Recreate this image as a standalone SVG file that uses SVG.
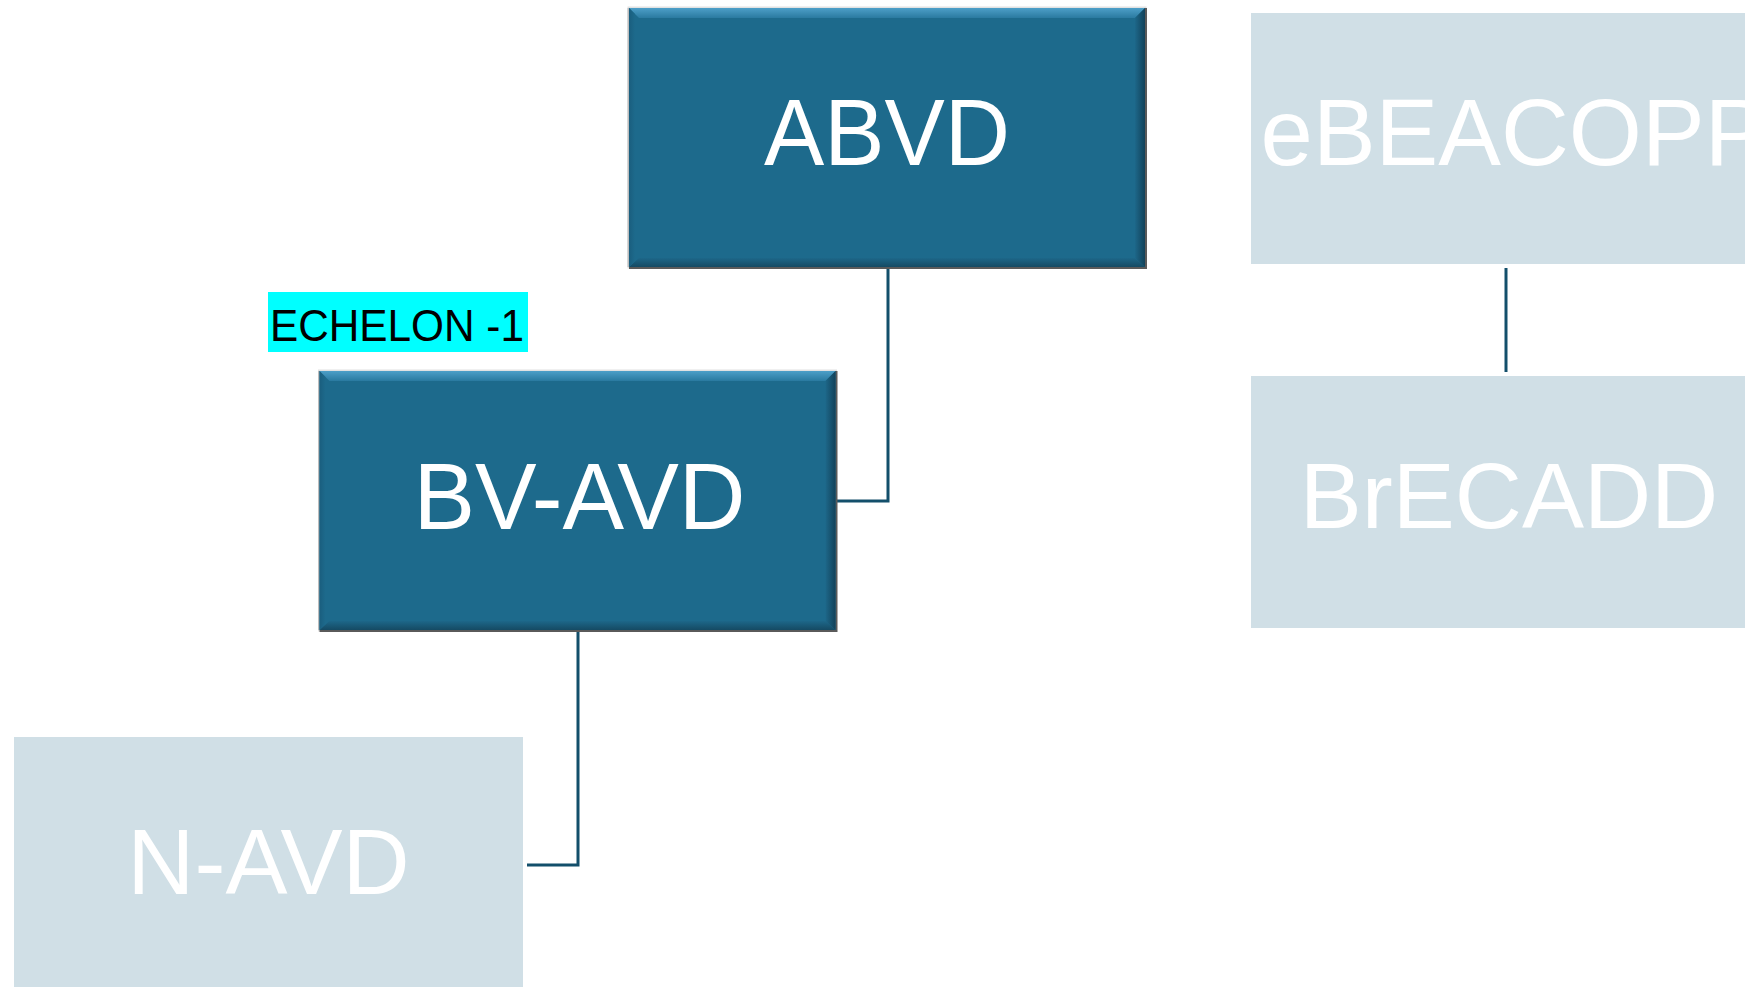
<svg xmlns="http://www.w3.org/2000/svg" xmlns:xlink="http://www.w3.org/1999/xlink" width="1745" height="987" viewBox="0 0 1745 987">
  <style>
    .lbl { font-family: "Liberation Sans", Arial, sans-serif; fill: #FFFFFF; text-anchor: middle; }
    .light { fill: #D0DFE6; }
    .conn { fill: none; stroke: #134F6B; stroke-width: 3; }
    .tag { font-family: "Liberation Sans", Arial, sans-serif; fill: #000000; font-size: 44px; }
  </style>
  <defs>
    <linearGradient id="gTop" x1="0" y1="0" x2="0" y2="1">
      <stop offset="0" stop-color="#4D9FC8"/>
      <stop offset="1" stop-color="#2A7AA0"/>
    </linearGradient>
    <linearGradient id="gBottom" x1="0" y1="0" x2="0" y2="1">
      <stop offset="0" stop-color="#1D6789"/>
      <stop offset="1" stop-color="#154A63"/>
    </linearGradient>
    <linearGradient id="gRight" x1="0" y1="0" x2="1" y2="0">
      <stop offset="0" stop-color="#1D6789"/>
      <stop offset="1" stop-color="#12425A"/>
    </linearGradient>
    <linearGradient id="gLeft" x1="0" y1="0" x2="1" y2="0">
      <stop offset="0" stop-color="#1A5E7E"/>
      <stop offset="1" stop-color="#1D6A8C"/>
    </linearGradient>
    <g id="darkBox">
      <rect x="-1.5" y="-1.5" width="519" height="262" fill="#E2E2E2"/>
      <rect x="0" y="0" width="518" height="261" fill="#5A5A5A"/>
      <rect x="-1.5" y="0" width="2.5" height="259" fill="#BDBDBD"/>
      <rect x="0" y="0" width="516" height="259" fill="#1D6A8C"/>
      <polygon points="0,0 516,0 506,10 10,10" fill="url(#gTop)"/>
      <polygon points="0,259 516,259 506,250 10,250" fill="url(#gBottom)"/>
      <polygon points="516,0 516,259 506,250 506,10" fill="url(#gRight)"/>
      <polygon points="0,0 0,259 6,253 6,6" fill="url(#gLeft)"/>
    </g>
  </defs>

  <g id="connectors">
    <path class="conn" d="M888,268 V501 H835"/>
    <path class="conn" d="M578,632 V865 H527"/>
    <path class="conn" d="M1506,268 V372"/>
  </g>

  <g id="node-abvd" transform="translate(629,8)">
    <use xlink:href="#darkBox" href="#darkBox"/>
    <text class="lbl" x="258" y="157" font-size="94" textLength="246" lengthAdjust="spacingAndGlyphs">ABVD</text>
  </g>

  <g id="node-ebeacopp">
    <rect class="light" x="1251" y="13" width="516" height="251"/>
    <text class="lbl" x="1514" y="165" font-size="94">eBEACOPP</text>
  </g>

  <g id="label-echelon">
    <rect x="268" y="292" width="260" height="60" fill="#00FFFF"/>
    <text class="tag" x="270" y="341" textLength="254" lengthAdjust="spacingAndGlyphs">ECHELON -1</text>
  </g>

  <g id="node-bvavd" transform="translate(319.5,371)">
    <use xlink:href="#darkBox" href="#darkBox"/>
    <text class="lbl" x="260" y="158" font-size="94" textLength="332" lengthAdjust="spacingAndGlyphs">BV-AVD</text>
  </g>

  <g id="node-brecadd">
    <rect class="light" x="1251" y="376" width="516" height="252"/>
    <text class="lbl" x="1509" y="528" font-size="93">BrECADD</text>
  </g>

  <g id="node-navd">
    <rect class="light" x="14" y="737" width="509" height="258"/>
    <text class="lbl" x="268.5" y="894" font-size="93">N-AVD</text>
  </g>
</svg>
